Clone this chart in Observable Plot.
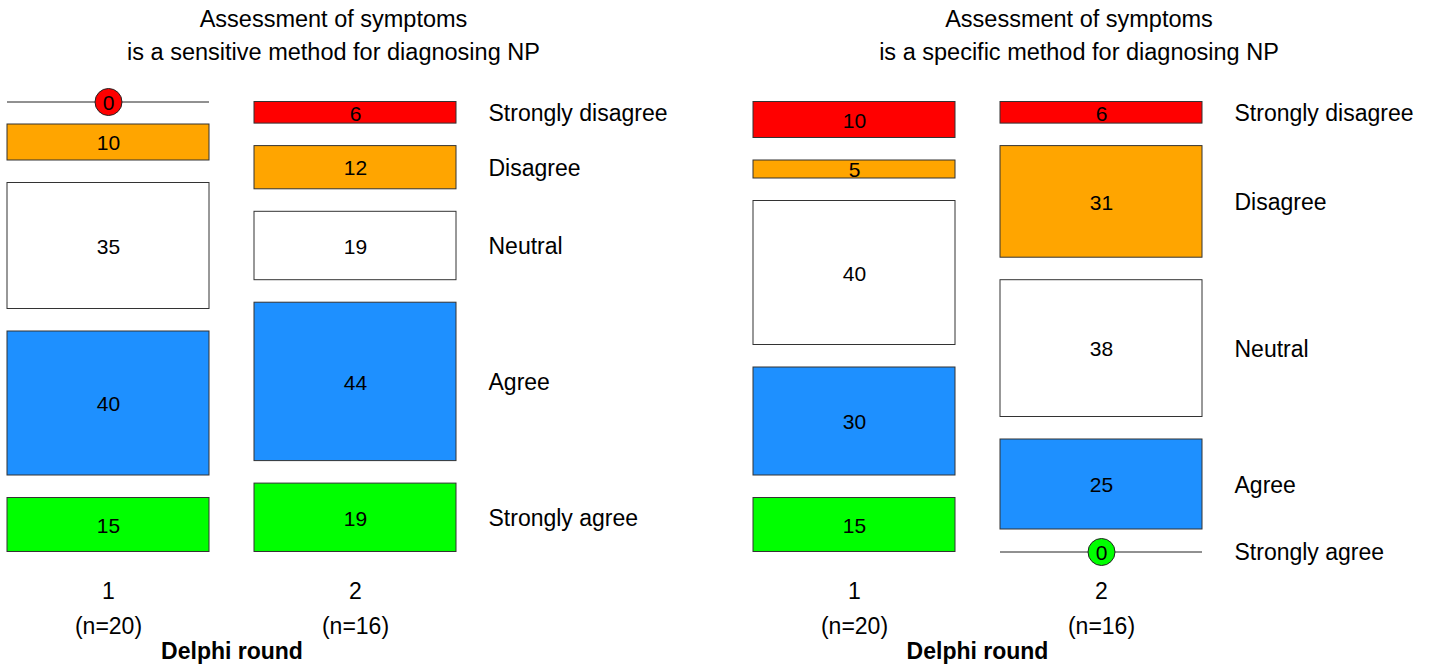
<!DOCTYPE html>
<html>
<head>
<meta charset="utf-8">
<script src="https://cdn.jsdelivr.net/npm/d3@7"></script>
<script src="https://cdn.jsdelivr.net/npm/@observablehq/plot@0.6"></script>
<style>
  html, body { margin: 0; padding: 0; background: #fff; }
  #wrap { position: relative; width: 1434px; height: 666px; overflow: hidden; }
  #wrap svg { position: absolute; top: 0; }
</style>
</head>
<body>
<div id="wrap"></div>
<script>
// ---- data ----
const categories = ["Strongly disagree", "Disagree", "Neutral", "Agree", "Strongly agree"];
const rounds = ["1", "2"];
const roundN = [20, 16];
const axisLabel = "Delphi round";
const sensitiveTitle = ["Assessment of symptoms", "is a sensitive method for diagnosing NP"];
const specificTitle = ["Assessment of symptoms", "is a specific method for diagnosing NP"];
const sensitiveRound1 = [0, 10, 35, 40, 15];
const sensitiveRound2 = [6, 12, 19, 44, 19];
const specificRound1 = [10, 5, 40, 30, 15];
const specificRound2 = [6, 31, 38, 25, 0];

// ---- style ----
const colors = ["#FF0000", "#FFA500", "#FFFFFF", "#1E90FF", "#00FF00"];
const font = "'Liberation Sans', Arial, Helvetica, sans-serif";
const GAP = 6.25; // gap between boxes, in percent units

function layout(valuesByRound) {
  const rows = [];
  valuesByRound.forEach((vals, r) => {
    let y = 0;
    vals.forEach((v, i) => {
      rows.push({round: rounds[r], category: categories[i], value: v, y1: y, y2: y + v, mid: y + v / 2});
      y += v + GAP;
    });
  });
  return rows;
}

function panel(valuesByRound, title, width, marginRight) {
  const rows = layout(valuesByRound);
  const boxes = rows.filter(d => d.value > 0);
  const zeros = rows.filter(d => d.value === 0);
  const labelRows = rows.filter(d => d.round === rounds[rounds.length - 1]);
  const total = 100 + GAP * (categories.length - 1);
  return Plot.plot({
    width,
    height: 666,
    marginTop: 101.5,
    marginBottom: 114.5,
    marginLeft: 7,
    marginRight,
    style: {fontFamily: font, fontSize: "23px", background: "#fff", overflow: "visible"},
    x: {type: "band", domain: rounds, paddingInner: 45 / 247, paddingOuter: 0, axis: null},
    y: {domain: [0, total], reverse: true, axis: null},
    color: {domain: categories, range: colors},
    marks: [
      Plot.barY(boxes, {x: "round", y1: "y1", y2: "y2", fill: "category", stroke: "#333", strokeWidth: 1, inset: 0}),
      Plot.tickY(zeros, {x: "round", y: "y1", stroke: "#222", strokeWidth: 1}),
      Plot.dot(zeros, {x: "round", y: "y1", r: 13.5, fill: "category", stroke: "#222", strokeWidth: 1}),
      Plot.text(rows, {x: "round", y: "mid", text: d => String(d.value), fontSize: 21, dy: 1, lineAnchor: "middle", fill: "#000"}),
      Plot.text(labelRows, {y: "mid", text: "category", frameAnchor: "right", dx: 32, dy: 1, textAnchor: "start", lineAnchor: "middle", fill: "#000"}),
      Plot.text(rounds, {x: d => d, text: d => d, frameAnchor: "bottom", dy: 40, lineAnchor: "middle", fill: "#000"}),
      Plot.text(rounds, {x: d => d, text: (d, i) => `(n=${roundN[i]})`, frameAnchor: "bottom", dy: 75, lineAnchor: "middle", fill: "#000"}),
      Plot.text([axisLabel], {text: d => d, frameAnchor: "bottom", dy: 99.5, lineAnchor: "middle", fontWeight: "bold", fill: "#000"}),
      Plot.text([title[0]], {text: d => d, frameAnchor: "top", dx: 101.5, dy: -83, lineAnchor: "middle", fontSize: 23.5, fill: "#000"}),
      Plot.text([title[1]], {text: d => d, frameAnchor: "top", dx: 101.5, dy: -50, lineAnchor: "middle", fontSize: 23.5, fill: "#000"})
    ]
  });
}

const wrap = document.getElementById("wrap");
const left = panel([sensitiveRound1, sensitiveRound2], sensitiveTitle, 745, 289);
left.style.left = "0px";
wrap.appendChild(left);
const right = panel([specificRound1, specificRound2], specificTitle, 689, 232);
right.style.left = "745px";
wrap.appendChild(right);
</script>
</body>
</html>
